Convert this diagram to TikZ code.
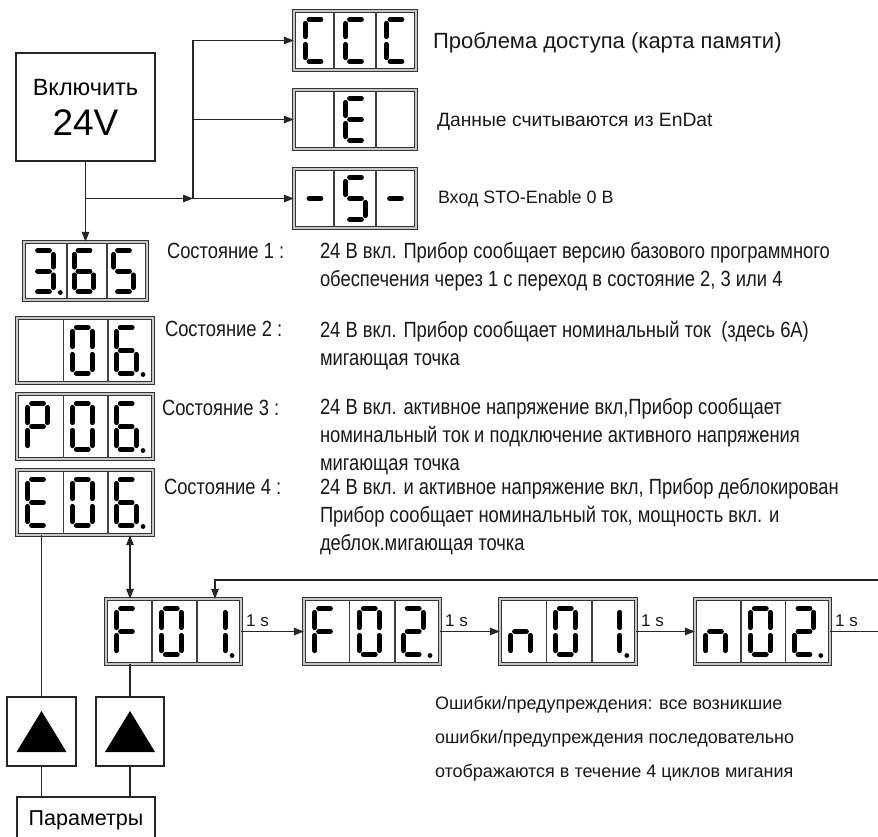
\documentclass[tikz,border=0pt]{standalone}
\usepackage{fontspec}
\setmainfont{Liberation Sans}
\newfontfamily\narrowfont[FakeStretch=0.835]{Liberation Sans}
\usetikzlibrary{arrows.meta,calc}

\tikzset{
  conn/.style={line width=1.4pt, draw=black!85},
  arr/.style={conn, -{Triangle[length=10pt,width=7.5pt]}},
  darr/.style={conn, {Triangle[length=10pt,width=7.5pt]}-{Triangle[length=10pt,width=7.5pt]}},
  dispframe/.style={rectangle, draw=black!80, line width=0.8pt, double=gray!45,
    double distance=2pt, fill=white, inner sep=0pt, outer sep=0pt},
  divline/.style={line width=1.1pt, draw=black!75},
  segline/.style={line width=5pt, line cap=round, draw=black},
  plainbox/.style={rectangle, draw=black!85, line width=1.3pt, fill=white, inner sep=0pt},
  txt/.style={inner sep=0pt, outer sep=0pt, text=black!90},
  onesec/.style={txt, font=\fontsize{17}{18}\selectfont, anchor=south west, xshift=5pt, yshift=4.5pt},
}

% display frame with two cell dividers: name, x1, y1, x2, y2, div1, div2
\newcommand\mkdisp[7]{%
  \node[dispframe, minimum width={#4-#2-3.6}, minimum height={#5-#3-3.6}]
    (#1) at ({(#2+#4)/2},{(#3+#5)/2}) {};
  \draw[divline] (#6,#3+3.4) -- (#6,#5-3.4);
  \draw[divline] (#7,#3+3.4) -- (#7,#5-3.4);
}
% seven-segment digit
\def\dhw{9.8}\def\dhh{23}\def\dgp{3.9}
\def\dsega{\draw[segline] (\dcx-\dhw+\dgp,\dcy-\dhh) -- (\dcx+\dhw-\dgp,\dcy-\dhh);}
\def\dsegb{\draw[segline] (\dcx+\dhw,\dcy-\dhh+\dgp) -- (\dcx+\dhw,\dcy-\dgp);}
\def\dsegc{\draw[segline] (\dcx+\dhw,\dcy+\dgp) -- (\dcx+\dhw,\dcy+\dhh-\dgp);}
\def\dsegd{\draw[segline] (\dcx-\dhw+\dgp,\dcy+\dhh) -- (\dcx+\dhw-\dgp,\dcy+\dhh);}
\def\dsege{\draw[segline] (\dcx-\dhw,\dcy+\dgp) -- (\dcx-\dhw,\dcy+\dhh-\dgp);}
\def\dsegf{\draw[segline] (\dcx-\dhw,\dcy-\dhh+\dgp) -- (\dcx-\dhw,\dcy-\dgp);}
\def\dsegg{\draw[segline] (\dcx-\dhw+\dgp,\dcy) -- (\dcx+\dhw-\dgp,\dcy);}
\def\dsegp{\fill[black] (\dcx+\dhw+7,\dcy+\dhh+1) circle (2.4);}
\newcommand\digit[3]{%
  \def\dcx{#1}\def\dcy{#2}%
  \foreach \s in {#3}{\csname dseg\s\endcsname}%
}

\begin{document}
\begin{tikzpicture}[x=1pt,y=-1pt]
\useasboundingbox (0,0) rectangle (878,836);
\clip (0,0) rectangle (878,836);
\fill[white] (0,0) rectangle (878,836);

% ---------- power box ----------
\node[plainbox, minimum width=139, minimum height=108, align=center] (pwr) at (85.5,107)
  {\fontsize{23.5}{26}\selectfont Включить\\[13pt]\fontsize{37}{40}\selectfont 24V};

% ---------- top displays ----------
\mkdisp{dC}{292}{9}{418}{72}{334}{376}
\mkdisp{dE}{292}{88}{418}{151}{334}{376}
\mkdisp{dS}{292}{167}{418}{230}{334}{376}
\def\dhh{21}
\digit{315}{40.5}{a,d,e,f}
\digit{355.5}{40.5}{a,d,e,f}
\digit{396}{40.5}{a,d,e,f}
\digit{355.5}{119.5}{a,d,e,f,g}
\digit{315}{198.5}{g}
\digit{355.5}{198.5}{a,f,g,c,d}
\digit{395.5}{198.5}{g}

% ---------- state displays ----------
\mkdisp{dA}{22}{240}{149}{302}{67}{107}
\def\dhh{20.5}
\digit{43.5}{271}{a,b,g,c,d,p}
\digit{84}{271}{a,f,g,e,d,c}
\digit{123.5}{271}{a,f,g,c,d}

\def\dhh{23}
\mkdisp{dB}{15}{316}{155}{385}{63.5}{108}
\digit{82.3}{350.5}{a,b,c,d,e,f}
\digit{126.2}{350.5}{a,f,g,e,d,c,p}

\mkdisp{dP}{15}{392}{155}{461}{63.5}{108}
\digit{37.5}{426.5}{a,b,f,g,e}
\digit{82.3}{426.5}{a,b,c,d,e,f}
\digit{126.2}{426.5}{a,f,g,e,d,c,p}

\mkdisp{dEsix}{15}{468}{155}{537}{63.5}{108}
\digit{37.5}{502.5}{a,d,e,f,g}
\digit{82.3}{502.5}{a,b,c,d,e,f}
\digit{126.2}{502.5}{a,f,g,e,d,c,p}

% ---------- error row ----------
\mkdisp{dFa}{104}{597}{243}{666}{152}{197}
\digit{126.5}{631.5}{a,e,f,g}
\digit{171.3}{631.5}{a,b,c,d,e,f}
\digit{215.2}{631.5}{b,c,p}

\mkdisp{dFb}{302}{597}{442}{666}{349.5}{395}
\digit{324.5}{631.5}{a,e,f,g}
\digit{369.3}{631.5}{a,b,c,d,e,f}
\digit{413.2}{631.5}{a,b,g,e,d,p}

\mkdisp{dNa}{498}{597}{638}{666}{546.5}{592}
\digit{520.5}{631.5}{c,e,g}
\digit{565.3}{631.5}{a,b,c,d,e,f}
\digit{610}{631.5}{b,c,p}

\mkdisp{dNb}{693}{597}{832}{666}{741}{785.5}
\digit{715.5}{631.5}{c,e,g}
\digit{760.3}{631.5}{a,b,c,d,e,f}
\digit{804}{631.5}{a,b,g,e,d,p}

% ---------- key boxes ----------
\node[plainbox, minimum width=69, minimum height=69] (tri1) at (41.5,731.5) {};
\node[plainbox, minimum width=68, minimum height=69] (tri2) at (130,731.5) {};
\fill[black] ($(tri1.center)+(-25,20.5)$) -- ($(tri1.center)+(25,20.5)$) -- ($(tri1.center)+(0,-20.5)$) -- cycle;
\fill[black] ($(tri2.center)+(-25,20.5)$) -- ($(tri2.center)+(25,20.5)$) -- ($(tri2.center)+(0,-20.5)$) -- cycle;
\node[plainbox, minimum width=138, minimum height=46] (par) at (86,820)
  {\fontsize{21.5}{24}\selectfont Параметры};

% ---------- connectors ----------
\coordinate (j1) at (pwr.south |- dS.west);
\coordinate (j2) at (193,198.5);
\draw[arr] (pwr.south) -- (dA.north);
\draw[arr] (j1) -- (j2);
\draw[arr] (j2) -- (dS.west);
\draw[arr] (j2) |- (dC.west);
\draw[arr] (j2 |- dE.west) -- (dE.west);

\draw[darr] (tri2 |- dEsix.south) -- (tri2 |- dFa.north);
\coordinate (fbR) at (880,580);
\draw[arr] (fbR) -| ([xshift=41.5pt]dFa.north);

\draw[arr] (dFa.east) -- node[onesec, pos=0] {1 s} (dFb.west);
\draw[arr] (dFb.east) -- node[onesec, pos=0] {1 s} (dNa.west);
\draw[arr] (dNa.east) -- node[onesec, pos=0] {1 s} (dNb.west);
\coordinate (outR) at (880,631.5);
\draw[conn] (dNb.east) -- node[onesec, pos=0] {1 s} (outR);

\draw[conn] (tri1 |- dEsix.south) -- (tri1.north);
\draw[conn] (tri1.south) -- (tri1 |- par.north);
\draw[conn] (tri2 |- dFa.south) -- (tri2.north);
\draw[conn] (tri2.south) -- (tri2 |- par.north);

% ---------- texts ----------
\node[txt, anchor=base west, font=\fontsize{22}{24}\selectfont] (tC) at (433,48) {Проблема доступа (карта памяти)};
\node[txt, anchor=base west, font=\fontsize{19.3}{22}\selectfont] (tE) at (437,126) {Данные считываются из EnDat};
\node[txt, anchor=base west, font=\fontsize{17.9}{20}\selectfont] (tS) at (438,203.5) {Вход STO-Enable 0 В};

\tikzset{slab/.style={txt, anchor=base west, font=\narrowfont\fontsize{22}{24}\selectfont},
  desc/.style={txt, anchor=north west, align=left, font=\narrowfont\fontsize{22}{28}\selectfont}}
\node[slab] (s1) at (167,258) {Состояние 1 :};
\node[slab] (s2) at (165,336.5) {Состояние 2 :};
\node[slab] (s3) at (162,415) {Состояние 3 :};
\node[slab] (s4) at (164,494) {Состояние 4 :};

\node[desc] (x1) at (320,242.5) {24 В вкл. Прибор сообщает версию базового программного\\обеспечения через 1 с переход в состояние 2, 3 или 4};
\node[desc] (x2) at (320,321) {24 В вкл. Прибор сообщает номинальный ток\ \ (здесь 6А)\\мигающая точка};
\node[desc] (x3) at (320,398.5) {24 В вкл. активное напряжение вкл,Прибор сообщает\\номинальный ток и подключение активного напряжения\\мигающая точка};
\node[desc] (x4) at (320,478.5) {24 В вкл. и активное напряжение вкл, Прибор деблокирован\\Прибор сообщает номинальный ток, мощность вкл. и\\деблок.мигающая точка};

\node[txt, anchor=north west, align=left, font=\fontsize{18}{34}\selectfont] (err) at (435,696)
  {Ошибки/предупреждения: все возникшие\\ошибки/предупреждения последовательно\\отображаются в течение 4 циклов мигания};
\end{tikzpicture}
\end{document}
